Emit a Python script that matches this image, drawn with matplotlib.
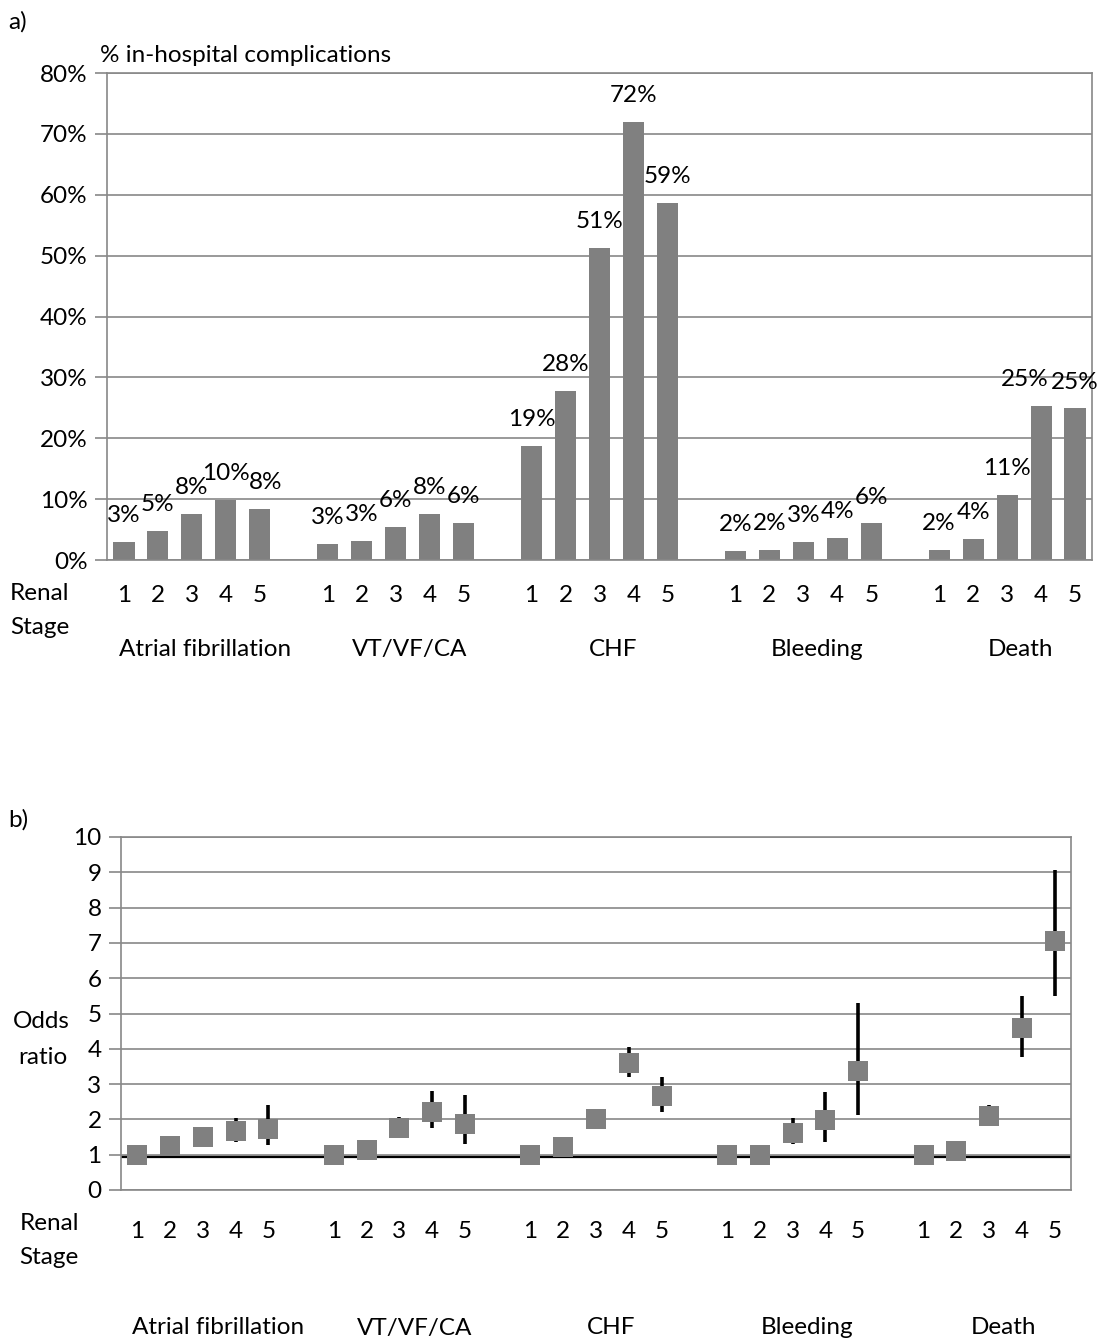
import matplotlib.pyplot as plt
from matplotlib.transforms import blended_transform_factory
import numpy as np

plt.rcParams['font.family'] = ['Lato', 'DejaVu Sans']

# ---- data ---------------------------------------------------------------
groups = ['Atrial fibrillation', 'VT/VF/CA', 'CHF', 'Bleeding', 'Death']
stages = ['1', '2', '3', '4', '5']

# % in-hospital complications by renal stage (1..5) for each complication
pct_af = [2.9, 4.7, 7.6, 9.8, 8.4]
pct_vt = [2.6, 3.1, 5.5, 7.6, 6.1]
pct_chf = [18.8, 27.8, 51.3, 72.0, 58.6]
pct_bleed = [1.5, 1.6, 2.9, 3.6, 6.0]
pct_death = [1.6, 3.5, 10.7, 25.3, 24.9]

# odds ratios (stage 1 = reference) with lower / upper confidence limits
or_af = [1.0, 1.26, 1.49, 1.68, 1.73]
lo_af = [1.0, 1.10, 1.30, 1.37, 1.27]
hi_af = [1.0, 1.45, 1.72, 2.05, 2.40]

or_vt = [1.0, 1.12, 1.76, 2.20, 1.87]
lo_vt = [1.0, 0.95, 1.52, 1.75, 1.29]
hi_vt = [1.0, 1.33, 2.06, 2.80, 2.69]

or_chf = [1.0, 1.23, 2.00, 3.59, 2.67]
lo_chf = [1.0, 1.08, 1.80, 3.19, 2.22]
hi_chf = [1.0, 1.40, 2.20, 4.05, 3.21]

or_bleed = [1.0, 0.98, 1.62, 1.97, 3.36]
lo_bleed = [1.0, 0.80, 1.29, 1.37, 2.13]
hi_bleed = [1.0, 1.20, 2.03, 2.79, 5.30]

or_death = [1.0, 1.10, 2.09, 4.58, 7.06]
lo_death = [1.0, 0.90, 1.85, 3.77, 5.49]
hi_death = [1.0, 1.30, 2.42, 5.50, 9.06]

pct_all = [pct_af, pct_vt, pct_chf, pct_bleed, pct_death]
or_all = [or_af, or_vt, or_chf, or_bleed, or_death]
lo_all = [lo_af, lo_vt, lo_chf, lo_bleed, lo_death]
hi_all = [hi_af, hi_vt, hi_chf, hi_bleed, hi_death]

# ---- layout helpers -----------------------------------------------------
W, H = 1097, 1344
BAR = '#808080'
GRID = '#888888'
FS = 17.5

# 5 stages per group + one empty slot between groups -> 29 slots
xpos = [g * 6 + i for g in range(len(groups)) for i in range(len(stages))]
xlabels = stages * len(groups)
centers = [g * 6 + 2 for g in range(len(groups))]

fig = plt.figure(figsize=(W / 100, H / 100), dpi=100)


def fig_text(px, py, s, **kw):
    fig.text(px / W, 1 - py / H, s, fontsize=FS, **kw)


def style_axes(ax):
    for side in ['left', 'right', 'top', 'bottom']:
        ax.spines[side].set_color(GRID)
        ax.spines[side].set_linewidth(1.2)
    ax.yaxis.grid(True, color=GRID, linewidth=1.2)
    ax.set_axisbelow(True)
    ax.tick_params(axis='y', length=9, width=1.2, color=GRID, labelsize=FS, pad=5)
    ax.tick_params(axis='x', length=0, labelsize=FS)
    ax.set_xlim(-0.5, 28.5)
    ax.set_xticks(xpos)
    ax.set_xticklabels(xlabels)


# ---- a) bar chart -------------------------------------------------------
ax1 = fig.add_axes([107 / W, 1 - 560 / H, 985 / W, 487 / H])
style_axes(ax1)
vals = [v for grp in pct_all for v in grp]
ax1.bar(xpos, vals, width=0.62, color=BAR, zorder=2)

# small sideways nudges for labels that crowd their neighbours
nudge = {4: 4, len(vals) - 2: -12}
for k, (x, v) in enumerate(zip(xpos, vals)):
    ax1.annotate(f'{int(np.floor(v + 0.5))}%', (x, v), xytext=(nudge.get(k, 0), 19),
                 textcoords='offset points', ha='center', va='center', fontsize=FS)
ax1.set_ylim(0, 80)
ax1.set_yticks(range(0, 81, 10))
ax1.set_yticklabels([f'{t}%' for t in range(0, 81, 10)])
ax1.tick_params(axis='x', pad=18)

tr1 = blended_transform_factory(ax1.transData, fig.transFigure)
for c, name in zip(centers, groups):
    ax1.text(c + 0.4, 1 - 650 / H, name, transform=tr1, ha='center', va='center', fontsize=FS)

fig_text(8, 22, 'a)', ha='left', va='center')
fig_text(100, 55, '% in-hospital complications', ha='left', va='center')
fig_text(10, 594, 'Renal', ha='left', va='center')
fig_text(10, 628, 'Stage', ha='left', va='center')

# ---- b) odds ratios -----------------------------------------------------
ax2 = fig.add_axes([121 / W, 1 - 1190 / H, 950 / W, 353 / H])
style_axes(ax2)
ors = [v for grp in or_all for v in grp]
los = [v for grp in lo_all for v in grp]
his = [v for grp in hi_all for v in grp]
ax2.axhline(0.94, color='black', linewidth=1.6, zorder=2)
ax2.vlines(xpos, los, his, color='black', linewidth=2.6, zorder=3)
ax2.plot(xpos, ors, linestyle='none', marker='s', markersize=14.5,
         color=BAR, markeredgewidth=0, zorder=4)
ax2.set_ylim(0, 10)
ax2.set_yticks(range(0, 11))
ax2.tick_params(axis='x', pad=22)

tr2 = blended_transform_factory(ax2.transData, fig.transFigure)
for c, name in zip(centers, groups):
    ax2.text(c + 0.45, 1 - 1328 / H, name, transform=tr2, ha='center', va='center', fontsize=FS)

fig_text(8, 820, 'b)', ha='left', va='center')
fig_text(41, 1021, 'Odds', ha='center', va='center')
fig_text(43, 1057, 'ratio', ha='center', va='center')
fig_text(49, 1223, 'Renal', ha='center', va='center')
fig_text(49, 1258, 'Stage', ha='center', va='center')

fig.savefig('out.png', dpi=100, facecolor='white')
